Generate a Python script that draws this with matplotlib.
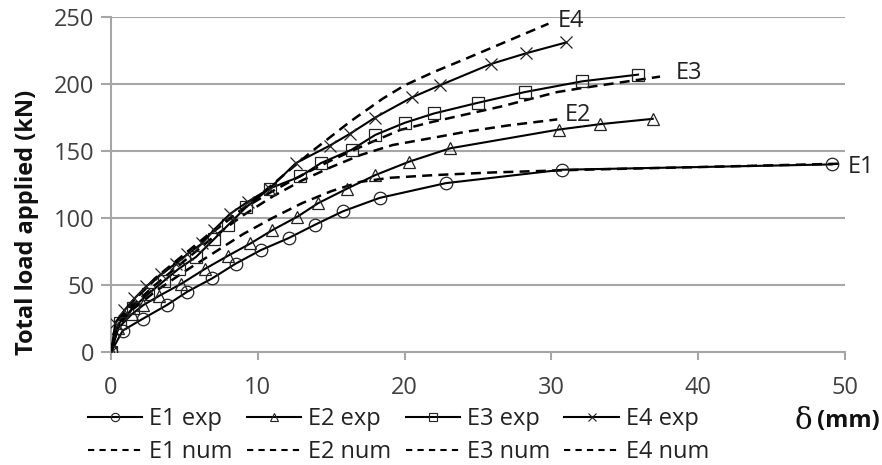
import matplotlib
matplotlib.use("Agg")
import matplotlib.pyplot as plt
from matplotlib.lines import Line2D

# ---------------- data ----------------
e1_exp_x = [0, 0.8, 2.2, 3.8, 5.2, 6.9, 8.5, 10.2, 12.1, 13.9, 15.8, 18.3, 22.8, 30.7, 49.1]
e1_exp_y = [0, 16, 25, 35, 45, 55, 66, 76, 85, 95, 105, 115, 126, 136, 140]

e2_exp_x = [0, 0.5, 1.4, 2.2, 3.3, 4.8, 6.4, 8.0, 9.5, 11.0, 12.7, 14.1, 16.1, 18.0, 20.3, 23.1, 30.5, 33.3, 36.9]
e2_exp_y = [0, 18, 28, 35, 42, 51, 62, 72, 81, 91, 101, 111, 122, 132, 142, 152, 166, 170, 174]

e3_exp_x = [0, 0.6, 1.5, 2.5, 3.6, 4.6, 5.8, 7.0, 8.0, 9.2, 10.8, 12.9, 14.3, 16.4, 18.0, 20.0, 22.0, 25.0, 28.2, 32.1, 35.9]
e3_exp_y = [0, 22, 33, 43, 53, 62, 71, 84, 95, 108, 122, 131, 141, 151, 162, 171, 178, 186, 194, 202, 207]

e4_exp_x = [0, 0.3, 0.9, 1.6, 2.4, 3.4, 4.4, 5.2, 6.2, 7.0, 8.1, 9.3, 10.8, 12.6, 14.9, 16.3, 18.0, 20.5, 22.4, 25.9, 28.3, 31.0]
e4_exp_y = [0, 22, 31, 40, 49, 58, 66, 73, 81, 91, 103, 112, 122, 141, 154, 163, 175, 190, 199, 215, 223, 231]

e1_num_x = [0, 0.5, 1.5, 3, 5, 7, 9, 11, 13, 15, 17, 19, 22, 26, 32, 40, 49.6]
e1_num_y = [0, 20, 32, 45, 60, 74, 88, 100, 111, 120, 127, 130, 132, 134, 136, 138, 140.5]

e2_num_x = [0, 0.5, 1.5, 3, 5, 7, 9, 11, 13, 15, 17, 19.2, 22, 24.2, 27, 30.4]
e2_num_y = [0, 22, 35, 50, 68, 86, 102, 116, 128, 138, 147, 154.5, 160, 164.4, 169, 173.6]

e3_num_x = [0, 0.5, 1.5, 3, 5, 7, 9, 11, 13, 15, 17.4, 19.7, 22, 26.5, 30.4, 32.1, 37.4]
e3_num_y = [0, 23, 38, 55, 73, 91, 107, 120, 132, 143, 155, 165.7, 172, 183, 194, 197, 205.5]

e4_num_x = [0, 0.5, 1.5, 3, 5, 7, 9, 11, 13.6, 16.3, 18.5, 20, 22, 24.2, 27, 29.8]
e4_num_y = [0, 24, 38, 54, 72, 90, 107, 125, 149, 172, 189, 199, 209, 219, 232, 245]

x_ticks = [0, 10, 20, 30, 40, 50]
y_ticks = [0, 50, 100, 150, 200, 250]

exp_labels = ["E1 exp", "E2 exp", "E3 exp", "E4 exp"]
num_labels = ["E1 num", "E2 num", "E3 num", "E4 num"]
curve_tags = ["E1", "E2", "E3", "E4"]
tag_pos_x = [50.2, 30.9, 38.5, 30.4]
tag_pos_y = [137.7, 176.5, 208, 247]

# ---------------- figure ----------------
FONT = "Open Sans"
plt.rcParams["font.family"] = [FONT, "DejaVu Sans"]
TICKCOL = "#404040"
GRID = "#a6a6a6"
FS = 17

fig = plt.figure(figsize=(8.82, 4.65), dpi=100)
ax = fig.add_axes([111/882, 1-352/465, (845-111)/882, (352-17)/465])

ax.set_xlim(0, 50)
ax.set_ylim(0, 250)
ax.set_xticks(x_ticks)
ax.set_yticks(y_ticks)
ax.yaxis.grid(True, color=GRID, lw=1.5)
ax.set_axisbelow(True)
for s in ["top", "right"]:
    ax.spines[s].set_visible(False)
for s in ["left", "bottom"]:
    ax.spines[s].set_color(GRID)
    ax.spines[s].set_linewidth(1.5)
ax.tick_params(axis="x", length=6, width=1.5, color=GRID, pad=11,
               labelsize=FS, labelcolor=TICKCOL)
ax.tick_params(axis="y", length=7, width=1.5, color=GRID, pad=5,
               labelsize=FS, labelcolor=TICKCOL)

exp_x = [e1_exp_x, e2_exp_x, e3_exp_x, e4_exp_x]
exp_y = [e1_exp_y, e2_exp_y, e3_exp_y, e4_exp_y]
num_x = [e1_num_x, e2_num_x, e3_num_x, e4_num_x]
num_y = [e1_num_y, e2_num_y, e3_num_y, e4_num_y]
markers = ["o", "^", "s", "x"]
msizes = [9, 9, 8.5, 9]

handles = []
labels = []
for i in range(4):
    ax.plot(num_x[i], num_y[i], color="black", lw=1.8, ls=(0, (4, 2.5)),
            zorder=3)
    ax.plot(exp_x[i], exp_y[i], color="black", lw=1.5, marker=markers[i],
            ms=msizes[i], mfc="none", mec="#222222", mew=0.9, zorder=4)
    ax.text(tag_pos_x[i], tag_pos_y[i], curve_tags[i], fontsize=FS,
            color="#222222", ha="left", va="center", clip_on=False)
    handles.append(Line2D([], [], color="black", lw=1.5, marker=markers[i],
                          ms=6, mfc="none", mec="#222222", mew=0.8))
    labels.append(exp_labels[i])
    handles.append(Line2D([], [], color="black", lw=1.5, ls=(0, (3, 2.5))))
    labels.append(num_labels[i])

leg = fig.legend(handles, labels, ncol=4, loc="upper left",
                 bbox_to_anchor=(88/882, 1-407/465), frameon=False,
                 fontsize=FS, handlelength=2.3, handletextpad=0.3,
                 columnspacing=0.6, labelspacing=0.38, borderpad=0,
                 borderaxespad=0)
for t in leg.get_texts():
    t.set_color("#222222")

fig.text(27/882, 1-222/465, "Total load applied (kN)", rotation=90,
         fontsize=FS, fontweight="bold", ha="center", va="center",
         color="#111111")
fig.text(795/882, 1-421/465, "δ", fontsize=21, family="DejaVu Serif",
         ha="left", va="center", color="#111111")
fig.text(817/882, 1-421/465, "(mm)", fontsize=FS, fontweight="bold",
         ha="left", va="center", color="#111111")

fig.savefig("out.png", dpi=100)
